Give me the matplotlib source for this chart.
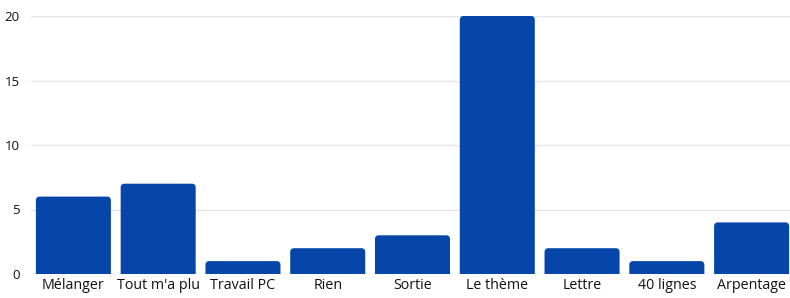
import matplotlib
matplotlib.use("Agg")
import matplotlib.pyplot as plt
from matplotlib.path import Path
from matplotlib.patches import PathPatch

categories = ["Mélanger", "Tout m'a plu", "Travail PC", "Rien", "Sortie",
              "Le thème", "Lettre", "40 lignes", "Arpentage"]
values = [6, 7, 1, 2, 3, 20, 2, 1, 4]
yticks = [0, 5, 10, 15, 20]

color = "#0546a8"
plt.rcParams['font.family'] = ['Open Sans', 'DejaVu Sans']

fig = plt.figure(figsize=(7.9, 2.98), dpi=100)
ax = fig.add_axes([31/790, 1-274/298, 763/790, (274-16)/298])
ax.set_xlim(-0.5, len(categories) - 0.5)
ax.set_ylim(0, 20)

bars = ax.bar(range(len(categories)), values, width=0.885, color=color, zorder=3)
fig.canvas.draw()
# rounded top corners (~3 px)
px_per_x = ax.transData.transform((1, 0))[0] - ax.transData.transform((0, 0))[0]
px_per_y = ax.transData.transform((0, 1))[1] - ax.transData.transform((0, 0))[1]
rpx = 3.5
for b in bars:
    x0, w, h = b.get_x(), b.get_width(), b.get_height()
    rx = rpx / px_per_x
    ry = min(rpx / px_per_y, h / 2)
    x1 = x0 + w
    k = 0.5523
    verts = [(x0, 0), (x0, h - ry),
             (x0, h - ry + k * ry), (x0 + rx - k * rx, h), (x0 + rx, h),
             (x1 - rx, h),
             (x1 - rx + k * rx, h), (x1, h - ry + k * ry), (x1, h - ry),
             (x1, 0), (x0, 0)]
    codes = [Path.MOVETO, Path.LINETO,
             Path.CURVE4, Path.CURVE4, Path.CURVE4,
             Path.LINETO,
             Path.CURVE4, Path.CURVE4, Path.CURVE4,
             Path.LINETO, Path.CLOSEPOLY]
    ax.add_patch(PathPatch(Path(verts, codes), facecolor=color, edgecolor='none', zorder=3))
    b.set_visible(False)

ax.set_yticks(yticks)
ax.set_yticklabels([str(t) for t in yticks], fontsize=9.5, color="#111111", fontweight='medium')
ax.set_xticks(range(len(categories)))
ax.set_xticklabels(categories, fontsize=10.3, color="#111111", fontweight='medium')
ax.tick_params(axis='both', length=0)
ax.tick_params(axis='y', pad=8)
ax.tick_params(axis='x', pad=3)
ax.grid(axis='y', color="#e4e4e4", linewidth=1, zorder=0)
for s in ax.spines.values():
    s.set_visible(False)

fig.savefig("out.png", dpi=100)
